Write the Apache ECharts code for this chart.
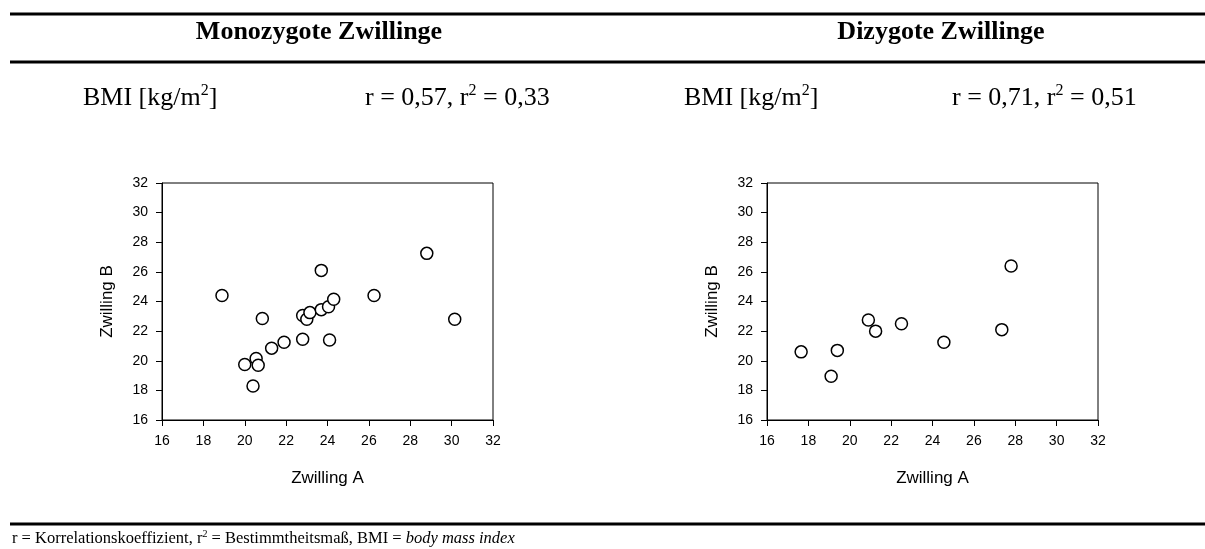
<!DOCTYPE html>
<html>
<head>
<meta charset="utf-8">
<script src="https://cdn.jsdelivr.net/npm/echarts@6/dist/echarts.min.js"></script>
<style>
  html, body { margin: 0; padding: 0; background: #fff; }
  #chart { width: 1205px; height: 549px; }
</style>
</head>
<body>
<div id="chart"></div>
<script>
// BMI pairs (Zwilling A, Zwilling B)
const monoA = [18.9, 20.0, 20.55, 20.65, 20.4, 20.85, 21.3, 21.9, 22.8, 22.8, 23.0, 23.15, 23.7, 23.7, 24.05, 24.3, 24.1, 26.25, 28.8, 30.15];
const monoB = [24.4, 19.75, 20.15, 19.7, 18.3, 22.85, 20.85, 21.25, 21.45, 23.05, 22.8, 23.25, 23.45, 26.1, 23.65, 24.15, 21.4, 24.4, 27.25, 22.8];
const diA = [17.65, 19.1, 19.4, 20.9, 21.25, 22.5, 24.55, 27.35, 27.8];
const diB = [20.6, 18.95, 20.7, 22.75, 22.0, 22.5, 21.25, 22.1, 26.4];

const axisTicks = [16, 18, 20, 22, 24, 26, 28, 30, 32];
const groupTitles = ['Monozygote Zwillinge', 'Dizygote Zwillinge'];
// rich-text strings: {s|2} is drawn as a superscript
const unitLabel = 'BMI [kg/m{s|2}]';
const statLabels = ['r = 0,57, r{s|2} = 0,33', 'r = 0,71, r{s|2} = 0,51'];
const axisNames = ['Zwilling A', 'Zwilling B'];
const footnote = 'r = Korrelationskoeffizient, r{s|2} = Bestimmtheitsmaß, BMI = ';
const footnoteItalic = 'body mass index';

const pairs = (a, b) => a.map((v, i) => [v, b[i]]);

const serif = '"Liberation Serif", "Times New Roman", serif';
const sans = '"Liberation Sans", Arial, sans-serif';

const tickMin = axisTicks[0];
const tickMax = axisTicks[axisTicks.length - 1];
const tickStep = axisTicks[1] - axisTicks[0];

function makeAxis(gridIndex, kind) {
  const isX = kind === 'x';
  return {
    type: 'value',
    gridIndex,
    min: tickMin,
    max: tickMax,
    interval: tickStep,
    name: isX ? axisNames[0] : axisNames[1],
    nameLocation: 'middle',
    nameGap: isX ? 50 : 46,
    nameTextStyle: { fontFamily: sans, fontSize: 17, color: '#000' },
    axisLine: { show: true, onZero: false, lineStyle: { color: '#000', width: 1 } },
    axisTick: { show: true, inside: false, length: 6, lineStyle: { color: '#000', width: 1 } },
    axisLabel: { fontFamily: sans, fontSize: 14, color: '#000', margin: 14 },
    splitLine: { show: false }
  };
}

const gridBase = { top: 183, width: 331, height: 237, show: true, borderColor: '#000', borderWidth: 1, backgroundColor: '#fff' };

function scatter(idx, data) {
  return {
    type: 'scatter',
    xAxisIndex: idx,
    yAxisIndex: idx,
    data,
    symbol: 'circle',
    symbolSize: 12,
    itemStyle: { color: '#fff', borderColor: '#000', borderWidth: 1.5, opacity: 1 },
    emphasis: { disabled: true },
    silent: true
  };
}

function rule(y) {
  return { type: 'line', shape: { x1: 10, y1: y, x2: 1205, y2: y }, style: { stroke: '#000', lineWidth: 3 }, silent: true };
}

// serif text with optional superscript / italic tokens
function label(x, y, text, size, opts) {
  const supSize = Math.round(size * 0.6);
  return {
    type: 'text', x, y, silent: true,
    style: Object.assign({
      text,
      fontFamily: serif, fontSize: size, fill: '#000',
      lineHeight: Math.round(size * 1.2),
      textAlign: 'left', textVerticalAlign: 'middle',
      rich: {
        s: { fontFamily: serif, fontSize: supSize, lineHeight: supSize, verticalAlign: 'top', fill: '#000' },
        i: { fontFamily: serif, fontSize: size, fontStyle: 'italic', fill: '#000' }
      }
    }, opts || {})
  };
}

const chart = echarts.init(document.getElementById('chart'), null, { renderer: 'canvas' });
chart.setOption({
  animation: false,
  backgroundColor: '#fff',
  grid: [
    Object.assign({ left: 162 }, gridBase),
    Object.assign({ left: 767 }, gridBase)
  ],
  xAxis: [makeAxis(0, 'x'), makeAxis(1, 'x')],
  yAxis: [makeAxis(0, 'y'), makeAxis(1, 'y')],
  series: [scatter(0, pairs(monoA, monoB)), scatter(1, pairs(diA, diB))],
  graphic: [
    rule(14), rule(62), rule(524),
    label(319, 32, groupTitles[0], 26, { fontWeight: 'bold', textAlign: 'center' }),
    label(941, 32, groupTitles[1], 26, { fontWeight: 'bold', textAlign: 'center' }),
    label(83, 98, unitLabel, 26),
    label(365, 98, statLabels[0], 26),
    label(684, 98, unitLabel, 26),
    label(952, 98, statLabels[1], 26),
    label(12, 539, footnote + '{i|' + footnoteItalic + '}', 16.5)
  ]
});
</script>
</body>
</html>
